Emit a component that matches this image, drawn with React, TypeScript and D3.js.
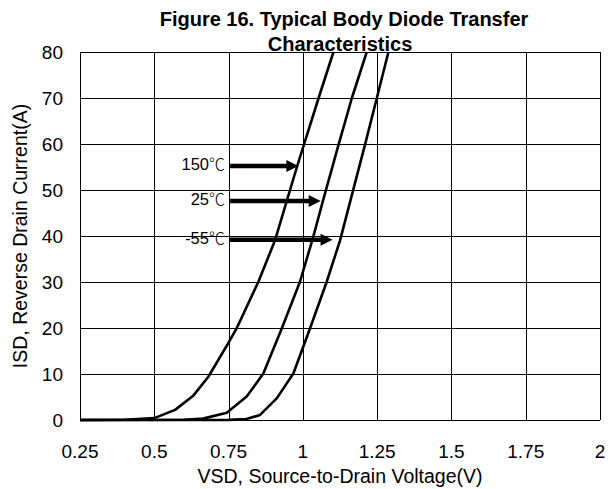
import React from "react";
import * as d3 from "d3";

const xTicks = [0.25, 0.5, 0.75, 1, 1.25, 1.5, 1.75, 2];
const xTickLabels = ["0.25", "0.5", "0.75", "1", "1.25", "1.5", "1.75", "2"];
const yTicks = [0, 10, 20, 30, 40, 50, 60, 70, 80];

const v150 = [0.25, 0.4, 0.5, 0.57, 0.63, 0.682, 0.749, 0.777, 0.85, 0.906, 0.98, 1.053, 1.103];
const i150 = [0, 0.05, 0.4, 2.2, 5.2, 9.4, 16.7, 19.9, 30, 39, 55, 70, 80];

const v25 = [0.25, 0.6, 0.664, 0.744, 0.811, 0.867, 0.929, 0.99, 1.035, 1.067, 1.12, 1.165, 1.215];
const i25 = [0, 0.05, 0.3, 1.6, 5.1, 10.1, 19.9, 30, 39.8, 47.5, 59.8, 70, 80];

const vm55 = [0.25, 0.75, 0.81, 0.856, 0.912, 0.968, 1.024, 1.08, 1.125, 1.209, 1.249, 1.288];
const im55 = [0, 0.02, 0.2, 1.1, 4.7, 10.1, 19.9, 30, 39, 59.8, 70, 80];

const tempLabels = ["150", "25", "-55"];
const arrowI = [55.2, 47.6, 39.2];
const arrowStartV = [0.755, 0.755, 0.755];
const arrowEndV = [0.985, 1.06, 1.1];

const W = 614;
const H = 489;

export default function App() {
  const x = d3.scaleLinear().domain([0.25, 2]).range([80, 600]);
  const y = d3.scaleLinear().domain([0, 80]).range([420, 52]);

  const line = d3
    .line<[number, number]>()
    .x((d) => x(d[0]))
    .y((d) => y(d[1]))
    .curve(d3.curveLinear);

  const series = [
    d3.zip(v150, i150) as [number, number][],
    d3.zip(v25, i25) as [number, number][],
    d3.zip(vm55, im55) as [number, number][],
  ];

  const font = "'Liberation Sans', Arial, sans-serif";

  return (
    <svg
      width={W}
      height={H}
      style={{ position: "absolute", left: 0, top: 0, background: "#fff" }}
      fontFamily={font}
    >
      <rect x={0} y={0} width={W} height={H} fill="#fff" />
      {/* grid */}
      {xTicks.map((t) => (
        <line
          key={"gx" + t}
          x1={Math.round(x(t)) + 0.5}
          x2={Math.round(x(t)) + 0.5}
          y1={y(80)}
          y2={y(0)}
          stroke="#000"
          strokeWidth={1}
        />
      ))}
      {yTicks.map((t) => (
        <line
          key={"gy" + t}
          x1={x(0.25)}
          x2={x(2)}
          y1={Math.round(y(t)) + 0.5}
          y2={Math.round(y(t)) + 0.5}
          stroke="#000"
          strokeWidth={1}
        />
      ))}
      {/* tick labels */}
      {xTicks.map((t, i) => (
        <text key={"tx" + t} x={x(t)} y={458} textAnchor="middle" fontSize={19} fill="#000">
          {xTickLabels[i]}
        </text>
      ))}
      {yTicks.map((t) => (
        <text key={"ty" + t} x={63} y={y(t) + 7} textAnchor="end" fontSize={19} fill="#000">
          {t}
        </text>
      ))}
      {/* curves */}
      {series.map((s, i) => (
        <path key={"s" + i} d={line(s) || ""} fill="none" stroke="#000" strokeWidth={2.6} strokeLinejoin="round" />
      ))}
      {/* annotations */}
      {tempLabels.map((lab, i) => {
        const yy = y(arrowI[i]);
        const x0 = x(arrowStartV[i]);
        const x1 = x(arrowEndV[i]);
        return (
          <g key={"a" + i}>
            <line x1={x0} x2={x1 - 10} y1={yy} y2={yy} stroke="#000" strokeWidth={4.5} />
            <path d={`M${x1},${yy} L${x1 - 12},${yy - 6} L${x1 - 12},${yy + 6} Z`} fill="#000" />
            <text x={225} y={yy + 4} textAnchor="end" fontSize={16.5} fill="#000">
              {lab}
              <tspan fontFamily="'Noto Sans CJK SC', sans-serif" fontSize={16} fontWeight={300}>
                ℃
              </tspan>
            </text>
          </g>
        );
      })}
      {/* title */}
      <text x={344} y={26} textAnchor="middle" fontSize={20} fontWeight="bold" fill="#000">
        Figure 16. Typical Body Diode Transfer
      </text>
      <text x={340} y={50.5} textAnchor="middle" fontSize={20} fontWeight="bold" fill="#000">
        Characteristics
      </text>
      {/* axis titles */}
      <text x={340} y={483} textAnchor="middle" fontSize={19.5} fill="#000">
        VSD, Source-to-Drain Voltage(V)
      </text>
      <text
        transform={`translate(27,236) rotate(-90)`}
        textAnchor="middle"
        fontSize={19.5}
        fill="#000"
      >
        ISD, Reverse Drain Current(A)
      </text>
    </svg>
  );
}
